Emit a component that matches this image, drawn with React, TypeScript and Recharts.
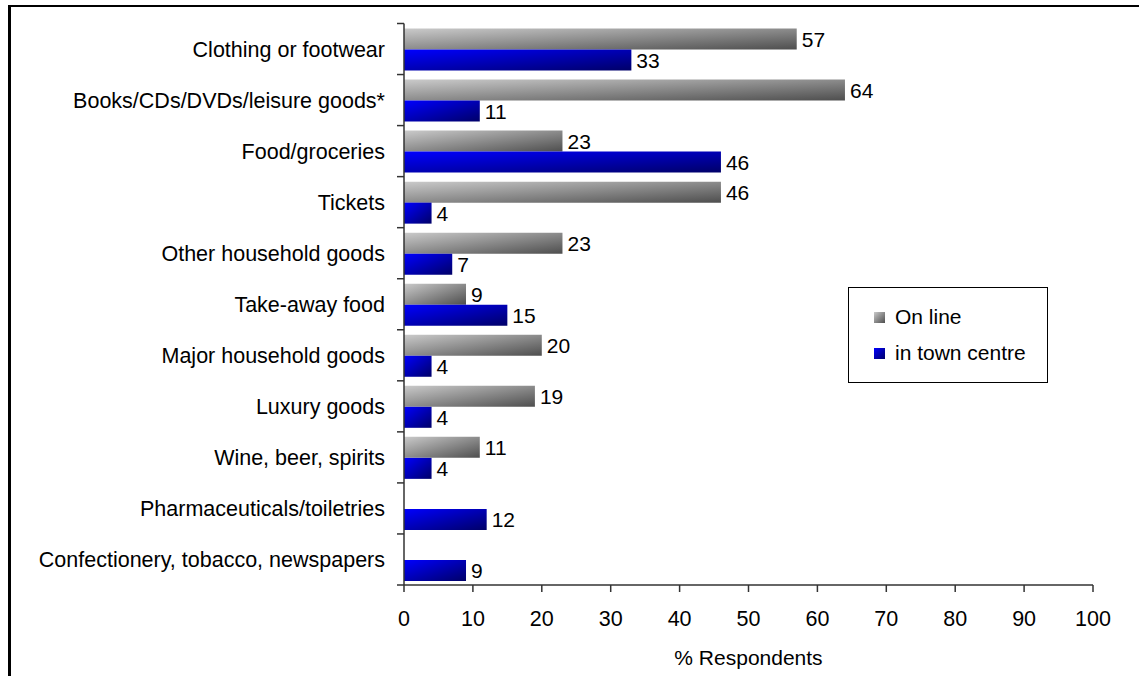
import { BarChart, Bar, XAxis, YAxis, LabelList } from "recharts";

const categories = [
  "Clothing or footwear",
  "Books/CDs/DVDs/leisure goods*",
  "Food/groceries",
  "Tickets",
  "Other household goods",
  "Take-away food",
  "Major household goods",
  "Luxury goods",
  "Wine, beer, spirits",
  "Pharmaceuticals/toiletries",
  "Confectionery, tobacco, newspapers",
];

const onlineValues: (number | null)[] = [57, 64, 23, 46, 23, 9, 20, 19, 11, null, null];
const townCentreValues = [33, 11, 46, 4, 7, 15, 4, 4, 4, 12, 9];

const xTicks = [0, 10, 20, 30, 40, 50, 60, 70, 80, 90, 100];

const data = categories.map((name, i) => ({
  name,
  online: onlineValues[i],
  town: townCentreValues[i],
}));

const FONT = '"Liberation Sans", Arial, sans-serif';
const AXIS = "#333";

// value printed just right of the bar end, skipped when there is no value
function ValueLabel(props: any) {
  const { x, y, width, height, value } = props;
  if (value === null || value === undefined) return null;
  return (
    <text x={x + width + 5} y={y + height / 2} dy={7.5} fontSize={21} fontFamily={FONT} fill="#000">
      {value}
    </text>
  );
}

// category label plus a tick on each band boundary (Excel style)
function CategoryTick(props: any) {
  const { x, y, payload, index, visibleTicksCount, height } = props;
  const half = payload.offset ?? height / visibleTicksCount / 2;
  const axisX = x + 19;
  return (
    <g>
      <line x1={axisX - 7} x2={axisX} y1={y - half} y2={y - half} stroke={AXIS} strokeWidth={1.5} />
      {index === visibleTicksCount - 1 && (
        <line x1={axisX - 7} x2={axisX} y1={y + half} y2={y + half} stroke={AXIS} strokeWidth={1.5} />
      )}
      <text x={x} y={y} dy={7.5} textAnchor="end" fontSize={21.5} fontFamily={FONT} fill="#000">
        {payload.value}
      </text>
    </g>
  );
}

export default function App() {
  return (
    <div style={{ position: "absolute", left: 0, top: 0, width: 1139, height: 676, overflow: "hidden", background: "#fff", fontFamily: FONT }}>
      <div
        style={{
          position: "absolute",
          left: 8,
          top: 5,
          width: 1200,
          height: 700,
          borderLeft: "3px solid #000",
          borderTop: "2px solid #000",
        }}
      />
      <div style={{ position: "absolute", left: 0, top: 0 }}>
        <BarChart
          width={1139}
          height={676}
          data={data}
          layout="vertical"
          margin={{ top: 23.5, right: 46, bottom: 0, left: 10 }}
          barCategoryGap={5}
          barGap={0}
        >
          <defs>
            <linearGradient id="gradOnline" x1="0" y1="0" x2="1" y2="1">
              <stop offset="0%" stopColor="#cacaca" />
              <stop offset="100%" stopColor="#4e4e4e" />
            </linearGradient>
            <linearGradient id="gradTown" x1="0" y1="0" x2="1" y2="1">
              <stop offset="0%" stopColor="#0000ff" />
              <stop offset="100%" stopColor="#000068" />
            </linearGradient>
          </defs>
          <XAxis
            type="number"
            domain={[0, 100]}
            ticks={xTicks}
            height={91}
            tickSize={7}
            tickMargin={19}
            stroke={AXIS}
            axisLine={{ stroke: AXIS, strokeWidth: 1.5 }}
            tickLine={{ stroke: AXIS, strokeWidth: 1.5 }}
            tick={{ fontSize: 21.5, fill: "#000", fontFamily: FONT }}
            label={{ value: "% Respondents", position: "insideBottom", offset: 11, fontSize: 21, fill: "#000", fontFamily: FONT }}
          />
          <YAxis
            type="category"
            dataKey="name"
            width={394}
            interval={0}
            tickSize={7}
            tickMargin={12}
            tickLine={false}
            axisLine={{ stroke: AXIS, strokeWidth: 1.5 }}
            tick={<CategoryTick />}
          />
          <Bar dataKey="online" fill="url(#gradOnline)" isAnimationActive={false}>
            <LabelList dataKey="online" content={<ValueLabel />} />
          </Bar>
          <Bar dataKey="town" fill="url(#gradTown)" isAnimationActive={false}>
            <LabelList dataKey="town" content={<ValueLabel />} />
          </Bar>
        </BarChart>
      </div>
      <div
        style={{
          position: "absolute",
          left: 848,
          top: 287,
          width: 200,
          height: 96,
          border: "1px solid #000",
          background: "#fff",
          boxSizing: "border-box",
          fontSize: 21,
          color: "#000",
        }}
      >
        <div style={{ position: "absolute", left: 25, top: 17, display: "flex", alignItems: "center", gap: 10, lineHeight: "24px" }}>
          <span style={{ width: 11, height: 11, background: "linear-gradient(135deg, #cacaca, #4e4e4e)" }} />
          <span>On line</span>
        </div>
        <div style={{ position: "absolute", left: 25, top: 53, display: "flex", alignItems: "center", gap: 10, lineHeight: "24px" }}>
          <span style={{ width: 11, height: 11, background: "linear-gradient(135deg, #0000ff, #000068)" }} />
          <span>in town centre</span>
        </div>
      </div>
    </div>
  );
}
